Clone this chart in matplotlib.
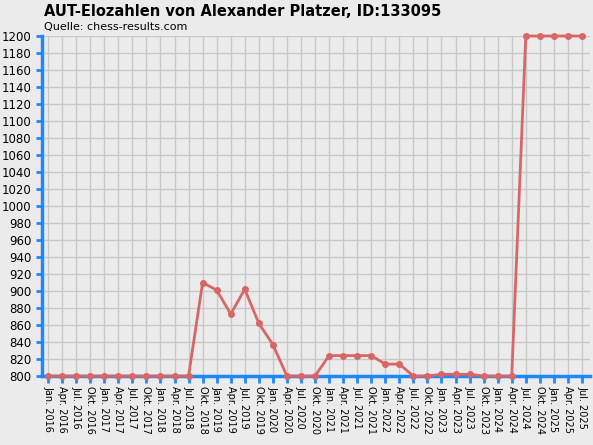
import matplotlib
matplotlib.use("Agg")
import matplotlib.pyplot as plt

labels = []
for y in range(2016, 2026):
    for m in ["Jan.", "Apr.", "Jul.", "Okt."]:
        labels.append(f"{m} {y}")
labels = labels[:39]
values = [800]*11 + [910, 901, 873, 902, 862, 837, 800, 800, 800, 824, 824, 824, 824,
          814, 814, 800, 800, 802, 802, 802, 800, 800, 800, 1200, 1200, 1200, 1200, 1200]

bg = "#EBEBEB"
fig = plt.figure(figsize=(5.93, 4.45), dpi=100, facecolor=bg)
ax = fig.add_axes([42/593, 1-376/445, 548/593, 340/445], facecolor=bg)
x = list(range(len(values)))
ax.plot(x, values, color="#D96666", lw=2, marker="o", ms=4, zorder=3, clip_on=False)
ax.set_xlim(-0.43, len(values)-1+0.57)
ax.set_ylim(800, 1200)
ax.set_yticks(range(800, 1201, 20))
ax.set_xticks(x)
ax.set_xticklabels(labels, rotation=-90, fontsize=7)
ax.tick_params(axis="y", labelsize=8.5, color="#1E88FF", length=4, width=2, direction="out")
ax.tick_params(axis="x", color="#1E88FF", length=5, width=2, direction="out", pad=2)
ax.grid(True, color="#C8C8C8", lw=1)
ax.set_axisbelow(True)
for s in ["top", "right"]:
    ax.spines[s].set_visible(False)
for s in ["left", "bottom"]:
    ax.spines[s].set_color("#1E88FF")
    ax.spines[s].set_linewidth(2.5)
fig.text(44/593, 1-12/445, "AUT-Elozahlen von Alexander Platzer, ID:133095", fontsize=10.5,
         fontweight="bold", va="center")
fig.text(44/593, 1-27/445, "Quelle: chess-results.com", fontsize=8, va="center")
fig.savefig("out.png", dpi=100, facecolor=bg)
